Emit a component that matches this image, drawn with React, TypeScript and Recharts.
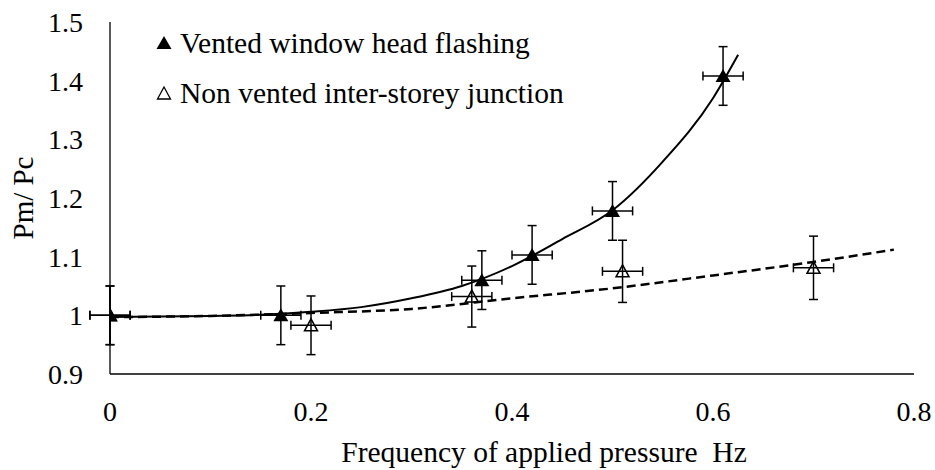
import {
  ComposedChart,
  Line,
  Scatter,
  ErrorBar,
  XAxis,
  YAxis,
  Legend,
} from 'recharts'

const ventedX = [0, 0.17, 0.37, 0.42, 0.5, 0.61]
const ventedY = [1.0, 1.0, 1.06, 1.103, 1.178, 1.408]
const ventedErrX = [0.02, 0.02, 0.02, 0.02, 0.02, 0.02]
const ventedErrY = [0.05, 0.05, 0.05, 0.05, 0.05, 0.05]

const nonVentedX = [0, 0.2, 0.36, 0.51, 0.7]
const nonVentedY = [1.0, 0.983, 1.032, 1.075, 1.081]
const nonVentedErrX = [0.02, 0.02, 0.02, 0.02, 0.02]
const nonVentedErrY = [0.05, 0.05, 0.052, 0.053, 0.054]

// trend lines
const ventedFitX = [0, 0.1, 0.15, 0.2, 0.25, 0.3, 0.35, 0.4, 0.45, 0.5, 0.55, 0.6, 0.625]
const ventedFitY = [0.997, 0.999, 1.001, 1.006, 1.014, 1.029, 1.05, 1.084, 1.13, 1.179, 1.262, 1.37, 1.444]

const nonVentedFitX = [0, 0.1, 0.2, 0.3, 0.4, 0.5, 0.6, 0.7, 0.78]
const nonVentedFitY = [0.997, 0.999, 1.004, 1.011, 1.029, 1.046, 1.068, 1.091, 1.112]

const xTicks = [0, 0.2, 0.4, 0.6, 0.8]
const yTicks = [0.9, 1.0, 1.1, 1.2, 1.3, 1.4, 1.5]

const seriesNames = ['Vented window head flashing', 'Non vented inter-storey junction']

const FONT = "'Liberation Serif', 'DejaVu Serif', serif"

const toPoints = (xs: number[], ys: number[], ex?: number[], ey?: number[]) =>
  xs.map((x, i) => ({ x, y: ys[i], ex: ex ? ex[i] : 0, ey: ey ? ey[i] : 0 }))

const ventedData = toPoints(ventedX, ventedY, ventedErrX, ventedErrY)
const nonVentedData = toPoints(nonVentedX, nonVentedY, nonVentedErrX, nonVentedErrY)
const ventedFit = toPoints(ventedFitX, ventedFitY)
const nonVentedFit = toPoints(nonVentedFitX, nonVentedFitY)

function FilledTriangle(props: any) {
  const { cx, cy } = props
  if (cx == null || cy == null) return null
  return (
    <polygon
      points={`${cx},${cy - 7} ${cx - 7.5},${cy + 6} ${cx + 7.5},${cy + 6}`}
      fill="#000"
    />
  )
}

function HollowTriangle(props: any) {
  const { cx, cy } = props
  if (cx == null || cy == null) return null
  return (
    <polygon
      points={`${cx},${cy - 6.5} ${cx - 6.5},${cy + 5.5} ${cx + 6.5},${cy + 5.5}`}
      fill="none"
      stroke="#000"
      strokeWidth={1.5}
    />
  )
}

function LegendBox() {
  return (
    <div style={{ fontFamily: FONT, fontSize: 29.5, color: '#000', lineHeight: '50px' }}>
      {seriesNames.map((name, i) => (
        <div key={name} style={{ display: 'flex', alignItems: 'center', height: 50 }}>
          <svg width={18} height={16} style={{ marginRight: 7 }}>
            {i === 0 ? (
              <polygon points="9,1 1.5,14 16.5,14" fill="#000" />
            ) : (
              <polygon points="9,2 2.5,14 15.5,14" fill="none" stroke="#000" strokeWidth={1.3} />
            )}
          </svg>
          <span>{name}</span>
        </div>
      ))}
    </div>
  )
}

export default function App() {
  return (
    <div style={{ position: 'absolute', left: 0, top: 0, fontFamily: FONT }}>
      <ComposedChart
        width={935}
        height={470}
        margin={{ top: 22, right: 21, bottom: 0, left: 0 }}
        style={{ fontFamily: FONT }}
      >
        <XAxis
          type="number"
          dataKey="x"
          domain={[0, 0.8]}
          ticks={xTicks}
          tickFormatter={(v) => String(v)}
          allowDataOverflow
          height={96}
          tickLine={false}
          tickSize={0}
          tickMargin={27}
          axisLine={{ stroke: '#000', strokeWidth: 1.3 }}
          tick={{ fontSize: 28, fill: '#000', fontFamily: FONT }}
          label={{
            value: 'Frequency of applied pressure\u00a0 Hz',
            position: 'insideBottom',
            offset: 8,
            dx: 32,
            fontFamily: FONT,
            fontSize: 29.5,
            fill: '#000',
          }}
        />
        <YAxis
          type="number"
          dataKey="y"
          domain={[0.9, 1.5]}
          ticks={yTicks}
          tickFormatter={(v) => String(Math.round(v * 10) / 10)}
          allowDataOverflow
          width={110}
          tickLine={false}
          tickSize={0}
          tickMargin={27}
          axisLine={{ stroke: '#000', strokeWidth: 1.3 }}
          tick={{ fontSize: 28, fill: '#000', fontFamily: FONT }}
          label={{
            value: 'Pm/ Pc',
            angle: -90,
            position: 'insideLeft',
            offset: 23,
            fontFamily: FONT,
            fontSize: 29,
            fill: '#000',
            style: { textAnchor: 'middle' },
          }}
        />
        <Legend
          layout="horizontal"
          verticalAlign="middle"
          align="center"
          wrapperStyle={{ left: 155, top: 18, width: 'auto' }}
          content={() => <LegendBox />}
        />
        <Line
          data={nonVentedFit}
          dataKey="y"
          type="monotone"
          stroke="#000"
          strokeWidth={2.5}
          strokeDasharray="9 5"
          dot={false}
          activeDot={false}
          isAnimationActive={false}
          legendType="none"
        />
        <Line
          data={ventedFit}
          dataKey="y"
          type="monotone"
          stroke="#000"
          strokeWidth={2}
          dot={false}
          activeDot={false}
          isAnimationActive={false}
          legendType="none"
        />
        <Scatter
          data={nonVentedData}
          name={seriesNames[1]}
          shape={HollowTriangle}
          isAnimationActive={false}
        >
          <ErrorBar dataKey="ey" direction="y" width={4.5} stroke="#000" strokeWidth={1.5} />
          <ErrorBar dataKey="ex" direction="x" width={4.5} stroke="#000" strokeWidth={1.5} />
        </Scatter>
        <Scatter
          data={ventedData}
          name={seriesNames[0]}
          shape={FilledTriangle}
          isAnimationActive={false}
        >
          <ErrorBar dataKey="ey" direction="y" width={4.5} stroke="#000" strokeWidth={1.5} />
          <ErrorBar dataKey="ex" direction="x" width={4.5} stroke="#000" strokeWidth={1.5} />
        </Scatter>
      </ComposedChart>
    </div>
  )
}
